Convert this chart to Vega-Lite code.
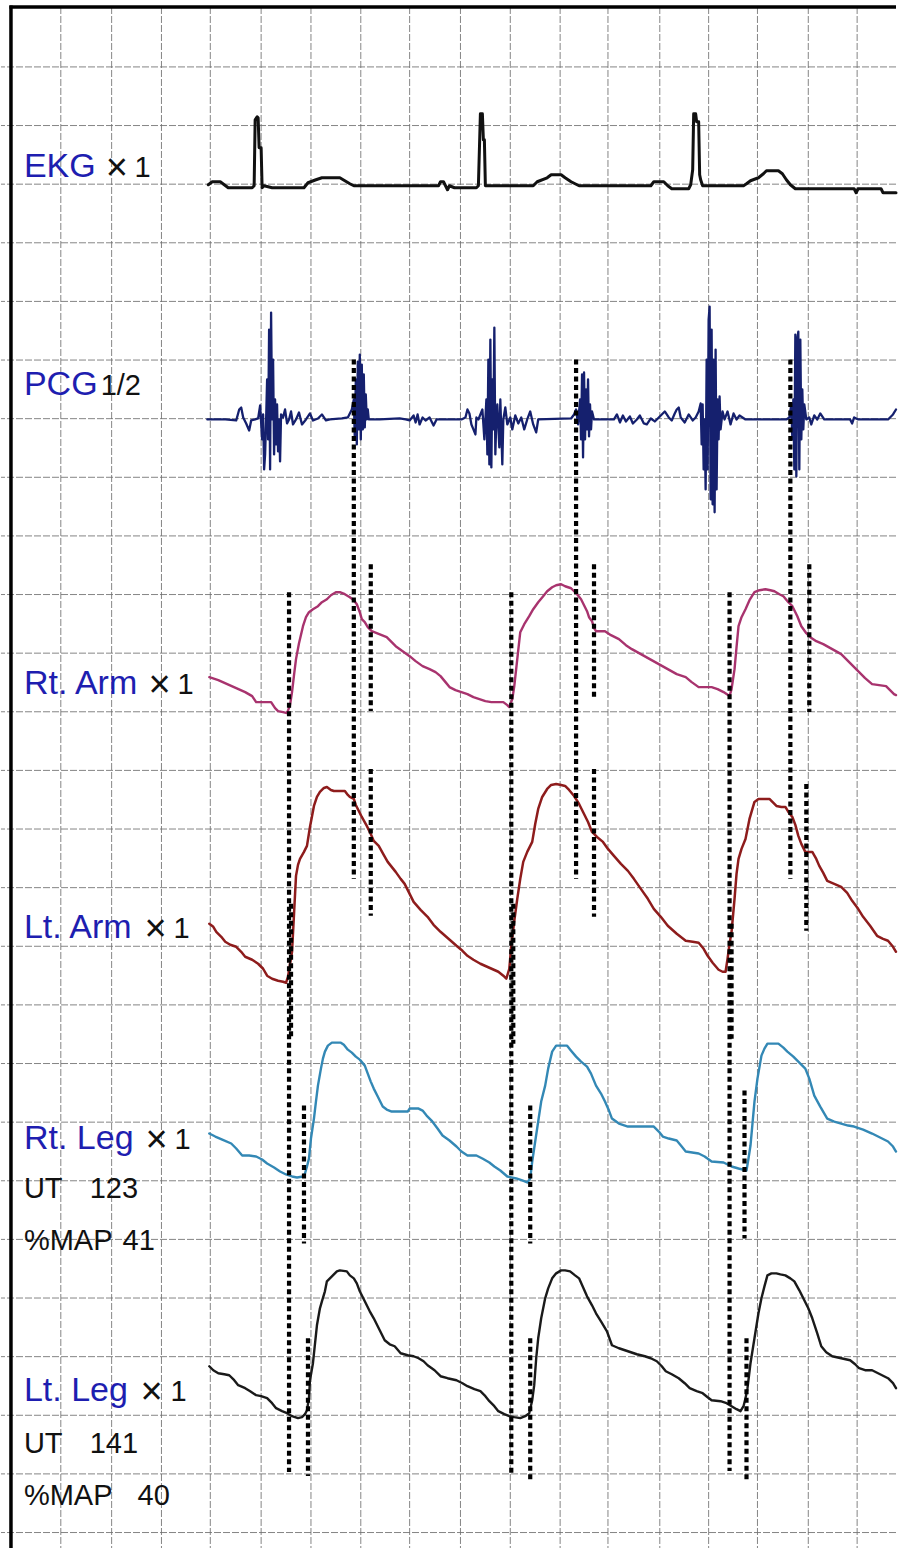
{
"$schema": "https://vega.github.io/schema/vega-lite/v6.json",
"width": 898, "height": 1550,
"autosize": {"type": "fit", "contains": "padding"},
"padding": 0,
"background": "white",
"config": {"view": {"stroke": null}},
"datasets": {
"vgrid": [{"t":60},{"t":111},{"t":161},{"t":210},{"t":261},{"t":311},{"t":361},{"t":410},{"t":461},{"t":511},{"t":561},{"t":609},{"t":661},{"t":710},{"t":759},{"t":810},{"t":859}],
"hgrid": [{"v":67},{"v":125.7},{"v":184.4},{"v":243.1},{"v":301.8},{"v":360.5},{"v":419.2},{"v":477.9},{"v":536.6},{"v":595.3},{"v":654},{"v":712.7},{"v":771.4},{"v":830.1},{"v":888.8},{"v":947.5},{"v":1006.2},{"v":1064.9},{"v":1123.6},{"v":1182.3},{"v":1241},{"v":1299.7},{"v":1358.4},{"v":1417.1},{"v":1475.8},{"v":1534.5}],
"frame": [{"t":10,"t2":10,"v":5.5,"v2":1550},{"t":8.5,"t2":898,"v":7,"v2":7}],
"ekg": [{"t":208,"v":185},{"t":212,"v":182},{"t":220,"v":182},{"t":224,"v":185},{"t":228,"v":188},{"t":236,"v":188},{"t":252,"v":188},{"t":254,"v":186},{"t":255,"v":120},{"t":257,"v":117},{"t":258,"v":118},{"t":259,"v":148},{"t":261,"v":148},{"t":262,"v":188},{"t":264,"v":186},{"t":272,"v":188},{"t":304,"v":188},{"t":308,"v":183},{"t":316,"v":180},{"t":322,"v":178},{"t":340,"v":178},{"t":345,"v":181},{"t":350,"v":184},{"t":354,"v":186},{"t":400,"v":186},{"t":439,"v":186},{"t":441,"v":182},{"t":444,"v":182},{"t":446,"v":186},{"t":448,"v":190},{"t":450,"v":186},{"t":455,"v":188},{"t":477,"v":188},{"t":479,"v":186},{"t":481,"v":114},{"t":483,"v":114},{"t":484,"v":140},{"t":485,"v":140},{"t":486,"v":186},{"t":490,"v":186},{"t":534,"v":186},{"t":538,"v":182},{"t":548,"v":178},{"t":552,"v":175},{"t":562,"v":175},{"t":566,"v":178},{"t":572,"v":182},{"t":580,"v":186},{"t":652,"v":186},{"t":655,"v":182},{"t":665,"v":182},{"t":669,"v":186},{"t":673,"v":189},{"t":690,"v":189},{"t":692,"v":185},{"t":694,"v":170},{"t":695,"v":114},{"t":697,"v":114},{"t":698,"v":122},{"t":700,"v":122},{"t":701,"v":175},{"t":702,"v":180},{"t":704,"v":186},{"t":745,"v":186},{"t":748,"v":184},{"t":752,"v":181},{"t":760,"v":178},{"t":765,"v":174},{"t":768,"v":171},{"t":780,"v":171},{"t":784,"v":174},{"t":788,"v":180},{"t":792,"v":185},{"t":797,"v":189},{"t":856,"v":189},{"t":858,"v":193},{"t":860,"v":189},{"t":883,"v":189},{"t":885,"v":193},{"t":898,"v":193}],
"pcg": [{"t":207,"v":420},{"t":225,"v":420},{"t":236,"v":421},{"t":239,"v":410},{"t":241,"v":408},{"t":243,"v":418},{"t":246,"v":424},{"t":249,"v":431},{"t":251,"v":421},{"t":255,"v":420},{"t":258,"v":419},{"t":260,"v":406},{"t":262,"v":440},{"t":263,"v":415},{"t":264,"v":470},{"t":265,"v":455},{"t":266,"v":420},{"t":267,"v":380},{"t":268,"v":440},{"t":269,"v":330},{"t":270,"v":470},{"t":271,"v":313},{"t":272,"v":420},{"t":273,"v":360},{"t":274,"v":455},{"t":275,"v":400},{"t":276,"v":445},{"t":277,"v":405},{"t":278,"v":452},{"t":279,"v":420},{"t":280,"v":462},{"t":281,"v":415},{"t":283,"v":418},{"t":285,"v":410},{"t":287,"v":424},{"t":289,"v":420},{"t":291,"v":412},{"t":293,"v":425},{"t":296,"v":420},{"t":299,"v":413},{"t":302,"v":425},{"t":306,"v":420},{"t":310,"v":414},{"t":313,"v":421},{"t":318,"v":419},{"t":322,"v":415},{"t":326,"v":421},{"t":330,"v":420},{"t":342,"v":419},{"t":348,"v":418},{"t":352,"v":410},{"t":354,"v":400},{"t":355,"v":440},{"t":356,"v":380},{"t":357,"v":445},{"t":358,"v":362},{"t":359,"v":430},{"t":360,"v":355},{"t":361,"v":440},{"t":362,"v":365},{"t":363,"v":430},{"t":364,"v":375},{"t":365,"v":428},{"t":366,"v":395},{"t":367,"v":420},{"t":368,"v":410},{"t":369,"v":420},{"t":380,"v":420},{"t":400,"v":419},{"t":406,"v":420},{"t":410,"v":421},{"t":414,"v":416},{"t":416,"v":423},{"t":418,"v":415},{"t":420,"v":425},{"t":423,"v":418},{"t":426,"v":421},{"t":430,"v":418},{"t":434,"v":426},{"t":437,"v":420},{"t":462,"v":420},{"t":466,"v":418},{"t":468,"v":410},{"t":470,"v":414},{"t":472,"v":425},{"t":474,"v":430},{"t":476,"v":435},{"t":477,"v":418},{"t":479,"v":420},{"t":483,"v":410},{"t":485,"v":440},{"t":487,"v":400},{"t":488,"v":455},{"t":489,"v":360},{"t":490,"v":465},{"t":491,"v":340},{"t":492,"v":468},{"t":493,"v":380},{"t":494,"v":430},{"t":495,"v":328},{"t":496,"v":455},{"t":497,"v":420},{"t":498,"v":405},{"t":500,"v":448},{"t":501,"v":400},{"t":503,"v":465},{"t":504,"v":420},{"t":506,"v":408},{"t":508,"v":425},{"t":511,"v":418},{"t":513,"v":430},{"t":516,"v":416},{"t":519,"v":424},{"t":522,"v":418},{"t":525,"v":430},{"t":528,"v":420},{"t":531,"v":412},{"t":534,"v":425},{"t":537,"v":433},{"t":539,"v":420},{"t":572,"v":419},{"t":575,"v":415},{"t":577,"v":410},{"t":579,"v":425},{"t":581,"v":400},{"t":582,"v":440},{"t":583,"v":375},{"t":584,"v":458},{"t":585,"v":373},{"t":586,"v":440},{"t":587,"v":390},{"t":588,"v":430},{"t":589,"v":380},{"t":590,"v":437},{"t":591,"v":405},{"t":592,"v":430},{"t":593,"v":412},{"t":595,"v":420},{"t":615,"v":420},{"t":618,"v":415},{"t":621,"v":423},{"t":624,"v":416},{"t":627,"v":422},{"t":631,"v":417},{"t":634,"v":424},{"t":638,"v":420},{"t":641,"v":416},{"t":645,"v":424},{"t":648,"v":425},{"t":652,"v":419},{"t":656,"v":422},{"t":660,"v":418},{"t":663,"v":415},{"t":666,"v":412},{"t":670,"v":418},{"t":673,"v":421},{"t":676,"v":414},{"t":678,"v":410},{"t":680,"v":408},{"t":682,"v":418},{"t":686,"v":423},{"t":690,"v":415},{"t":694,"v":421},{"t":697,"v":418},{"t":700,"v":412},{"t":702,"v":404},{"t":703,"v":445},{"t":704,"v":405},{"t":705,"v":470},{"t":706,"v":420},{"t":707,"v":490},{"t":708,"v":360},{"t":709,"v":470},{"t":710,"v":320},{"t":711,"v":307},{"t":712,"v":500},{"t":713,"v":330},{"t":714,"v":505},{"t":715,"v":360},{"t":716,"v":513},{"t":717,"v":350},{"t":718,"v":490},{"t":719,"v":400},{"t":720,"v":440},{"t":721,"v":397},{"t":722,"v":430},{"t":724,"v":412},{"t":726,"v":420},{"t":729,"v":412},{"t":732,"v":425},{"t":735,"v":414},{"t":738,"v":420},{"t":741,"v":416},{"t":744,"v":418},{"t":747,"v":420},{"t":788,"v":420},{"t":791,"v":418},{"t":793,"v":405},{"t":794,"v":440},{"t":795,"v":400},{"t":796,"v":470},{"t":797,"v":335},{"t":798,"v":477},{"t":799,"v":340},{"t":800,"v":332},{"t":801,"v":470},{"t":802,"v":340},{"t":803,"v":440},{"t":804,"v":390},{"t":805,"v":430},{"t":806,"v":405},{"t":808,"v":420},{"t":811,"v":418},{"t":813,"v":425},{"t":816,"v":416},{"t":819,"v":420},{"t":822,"v":414},{"t":826,"v":420},{"t":852,"v":420},{"t":854,"v":424},{"t":856,"v":418},{"t":860,"v":420},{"t":890,"v":420},{"t":895,"v":415},{"t":898,"v":410}],
"rarm": [{"t":209,"v":678},{"t":218,"v":681},{"t":227,"v":685},{"t":236,"v":689},{"t":245,"v":693},{"t":252,"v":697},{"t":256,"v":703},{"t":264,"v":703},{"t":271,"v":703},{"t":275,"v":709},{"t":278,"v":712},{"t":283,"v":713},{"t":287,"v":714},{"t":290,"v":706},{"t":292,"v":693},{"t":294,"v":676},{"t":296,"v":660},{"t":299,"v":644},{"t":303,"v":627},{"t":306,"v":618},{"t":309,"v":613},{"t":313,"v":610},{"t":318,"v":607},{"t":322,"v":603},{"t":327,"v":600},{"t":331,"v":596},{"t":336,"v":593},{"t":340,"v":593},{"t":345,"v":595},{"t":350,"v":598},{"t":354,"v":601},{"t":357,"v":605},{"t":360,"v":613},{"t":362,"v":620},{"t":365,"v":623},{"t":368,"v":628},{"t":372,"v":632},{"t":377,"v":634},{"t":382,"v":636},{"t":387,"v":638},{"t":392,"v":643},{"t":396,"v":647},{"t":403,"v":652},{"t":410,"v":657},{"t":416,"v":662},{"t":423,"v":667},{"t":430,"v":670},{"t":436,"v":673},{"t":441,"v":677},{"t":446,"v":683},{"t":450,"v":688},{"t":456,"v":691},{"t":462,"v":693},{"t":468,"v":695},{"t":474,"v":698},{"t":480,"v":700},{"t":486,"v":702},{"t":492,"v":703},{"t":504,"v":703},{"t":508,"v":706},{"t":510,"v":708},{"t":513,"v":700},{"t":515,"v":687},{"t":518,"v":660},{"t":521,"v":633},{"t":525,"v":625},{"t":530,"v":617},{"t":534,"v":610},{"t":539,"v":603},{"t":544,"v":597},{"t":548,"v":592},{"t":553,"v":588},{"t":557,"v":586},{"t":562,"v":585},{"t":566,"v":587},{"t":572,"v":589},{"t":575,"v":592},{"t":578,"v":595},{"t":582,"v":600},{"t":585,"v":606},{"t":588,"v":612},{"t":590,"v":618},{"t":593,"v":622},{"t":595,"v":629},{"t":597,"v":632},{"t":606,"v":632},{"t":612,"v":636},{"t":620,"v":640},{"t":627,"v":646},{"t":633,"v":650},{"t":642,"v":655},{"t":651,"v":660},{"t":660,"v":665},{"t":669,"v":670},{"t":678,"v":675},{"t":687,"v":678},{"t":693,"v":683},{"t":700,"v":688},{"t":713,"v":688},{"t":719,"v":690},{"t":725,"v":693},{"t":728,"v":695},{"t":731,"v":697},{"t":733,"v":690},{"t":736,"v":670},{"t":738,"v":648},{"t":740,"v":627},{"t":743,"v":618},{"t":747,"v":610},{"t":751,"v":601},{"t":756,"v":593},{"t":761,"v":591},{"t":767,"v":590},{"t":772,"v":591},{"t":776,"v":592},{"t":781,"v":595},{"t":785,"v":597},{"t":790,"v":603},{"t":794,"v":607},{"t":799,"v":617},{"t":803,"v":627},{"t":808,"v":634},{"t":812,"v":638},{"t":818,"v":642},{"t":825,"v":645},{"t":834,"v":650},{"t":843,"v":655},{"t":852,"v":664},{"t":861,"v":673},{"t":867,"v":679},{"t":874,"v":685},{"t":881,"v":686},{"t":888,"v":687},{"t":892,"v":691},{"t":896,"v":695},{"t":898,"v":696}],
"larm": [{"t":209,"v":925},{"t":213,"v":928},{"t":216,"v":933},{"t":221,"v":938},{"t":225,"v":943},{"t":230,"v":946},{"t":236,"v":948},{"t":241,"v":953},{"t":245,"v":958},{"t":252,"v":961},{"t":258,"v":965},{"t":263,"v":970},{"t":267,"v":977},{"t":272,"v":980},{"t":278,"v":982},{"t":283,"v":983},{"t":286,"v":984},{"t":288,"v":978},{"t":290,"v":965},{"t":292,"v":953},{"t":294,"v":915},{"t":296,"v":877},{"t":298,"v":866},{"t":300,"v":860},{"t":304,"v":853},{"t":307,"v":847},{"t":310,"v":828},{"t":314,"v":807},{"t":317,"v":798},{"t":320,"v":793},{"t":324,"v":789},{"t":327,"v":788},{"t":331,"v":791},{"t":334,"v":792},{"t":345,"v":792},{"t":348,"v":796},{"t":350,"v":798},{"t":352,"v":799},{"t":354,"v":800},{"t":356,"v":806},{"t":358,"v":810},{"t":362,"v":818},{"t":367,"v":827},{"t":371,"v":835},{"t":374,"v":842},{"t":379,"v":847},{"t":384,"v":856},{"t":388,"v":863},{"t":392,"v":868},{"t":396,"v":873},{"t":401,"v":880},{"t":405,"v":885},{"t":409,"v":893},{"t":414,"v":903},{"t":421,"v":911},{"t":428,"v":918},{"t":434,"v":926},{"t":441,"v":933},{"t":449,"v":940},{"t":457,"v":947},{"t":463,"v":952},{"t":468,"v":957},{"t":474,"v":961},{"t":481,"v":965},{"t":490,"v":969},{"t":499,"v":973},{"t":504,"v":977},{"t":507,"v":980},{"t":510,"v":970},{"t":512,"v":947},{"t":515,"v":922},{"t":518,"v":900},{"t":521,"v":880},{"t":524,"v":863},{"t":528,"v":853},{"t":533,"v":843},{"t":536,"v":825},{"t":539,"v":810},{"t":543,"v":798},{"t":548,"v":790},{"t":552,"v":786},{"t":557,"v":785},{"t":562,"v":786},{"t":566,"v":787},{"t":570,"v":791},{"t":575,"v":797},{"t":580,"v":805},{"t":584,"v":813},{"t":589,"v":823},{"t":593,"v":833},{"t":598,"v":838},{"t":604,"v":843},{"t":609,"v":850},{"t":615,"v":857},{"t":622,"v":865},{"t":629,"v":872},{"t":635,"v":880},{"t":642,"v":890},{"t":649,"v":900},{"t":655,"v":910},{"t":662,"v":918},{"t":669,"v":927},{"t":678,"v":935},{"t":687,"v":942},{"t":694,"v":943},{"t":700,"v":944},{"t":705,"v":950},{"t":709,"v":957},{"t":714,"v":964},{"t":720,"v":971},{"t":724,"v":973},{"t":727,"v":973},{"t":729,"v":960},{"t":731,"v":945},{"t":733,"v":933},{"t":736,"v":900},{"t":738,"v":875},{"t":740,"v":860},{"t":743,"v":850},{"t":747,"v":840},{"t":751,"v":820},{"t":756,"v":803},{"t":760,"v":800},{"t":771,"v":800},{"t":775,"v":804},{"t":778,"v":807},{"t":783,"v":808},{"t":787,"v":808},{"t":790,"v":813},{"t":794,"v":818},{"t":797,"v":826},{"t":800,"v":837},{"t":803,"v":845},{"t":807,"v":853},{"t":814,"v":853},{"t":818,"v":860},{"t":821,"v":867},{"t":825,"v":874},{"t":829,"v":882},{"t":836,"v":885},{"t":843,"v":888},{"t":849,"v":894},{"t":854,"v":902},{"t":860,"v":910},{"t":865,"v":918},{"t":872,"v":927},{"t":879,"v":937},{"t":885,"v":940},{"t":890,"v":942},{"t":895,"v":948},{"t":898,"v":953}],
"rleg": [{"t":209,"v":1135},{"t":215,"v":1138},{"t":222,"v":1141},{"t":231,"v":1145},{"t":236,"v":1150},{"t":242,"v":1157},{"t":249,"v":1157},{"t":256,"v":1158},{"t":262,"v":1161},{"t":267,"v":1165},{"t":274,"v":1169},{"t":280,"v":1173},{"t":286,"v":1176},{"t":292,"v":1178},{"t":297,"v":1179},{"t":303,"v":1178},{"t":305,"v":1175},{"t":307,"v":1168},{"t":309,"v":1160},{"t":311,"v":1140},{"t":314,"v":1120},{"t":316,"v":1103},{"t":318,"v":1087},{"t":321,"v":1070},{"t":323,"v":1060},{"t":325,"v":1053},{"t":328,"v":1047},{"t":332,"v":1044},{"t":341,"v":1044},{"t":344,"v":1046},{"t":348,"v":1051},{"t":352,"v":1054},{"t":356,"v":1058},{"t":360,"v":1061},{"t":365,"v":1067},{"t":368,"v":1075},{"t":371,"v":1083},{"t":374,"v":1090},{"t":378,"v":1098},{"t":383,"v":1108},{"t":387,"v":1111},{"t":392,"v":1113},{"t":408,"v":1113},{"t":410,"v":1110},{"t":419,"v":1110},{"t":423,"v":1112},{"t":427,"v":1117},{"t":432,"v":1122},{"t":438,"v":1130},{"t":443,"v":1137},{"t":450,"v":1142},{"t":457,"v":1148},{"t":462,"v":1153},{"t":468,"v":1157},{"t":477,"v":1157},{"t":483,"v":1160},{"t":490,"v":1164},{"t":495,"v":1168},{"t":501,"v":1172},{"t":508,"v":1178},{"t":517,"v":1180},{"t":523,"v":1182},{"t":528,"v":1184},{"t":531,"v":1180},{"t":533,"v":1163},{"t":536,"v":1143},{"t":539,"v":1123},{"t":542,"v":1103},{"t":546,"v":1087},{"t":549,"v":1070},{"t":553,"v":1053},{"t":557,"v":1047},{"t":568,"v":1047},{"t":572,"v":1052},{"t":577,"v":1058},{"t":582,"v":1063},{"t":588,"v":1068},{"t":592,"v":1075},{"t":597,"v":1087},{"t":602,"v":1095},{"t":606,"v":1103},{"t":610,"v":1112},{"t":613,"v":1120},{"t":620,"v":1125},{"t":629,"v":1128},{"t":655,"v":1128},{"t":660,"v":1133},{"t":664,"v":1138},{"t":670,"v":1140},{"t":678,"v":1142},{"t":683,"v":1148},{"t":687,"v":1153},{"t":700,"v":1155},{"t":706,"v":1158},{"t":713,"v":1163},{"t":725,"v":1164},{"t":733,"v":1168},{"t":740,"v":1170},{"t":748,"v":1172},{"t":750,"v":1160},{"t":752,"v":1147},{"t":754,"v":1125},{"t":756,"v":1103},{"t":759,"v":1080},{"t":763,"v":1057},{"t":766,"v":1050},{"t":769,"v":1045},{"t":780,"v":1045},{"t":785,"v":1049},{"t":789,"v":1053},{"t":795,"v":1058},{"t":800,"v":1063},{"t":804,"v":1067},{"t":807,"v":1070},{"t":811,"v":1080},{"t":816,"v":1097},{"t":822,"v":1108},{"t":829,"v":1120},{"t":836,"v":1123},{"t":843,"v":1125},{"t":850,"v":1127},{"t":856,"v":1128},{"t":865,"v":1131},{"t":874,"v":1135},{"t":882,"v":1139},{"t":890,"v":1143},{"t":895,"v":1148},{"t":898,"v":1153}],
"lleg": [{"t":209,"v":1368},{"t":213,"v":1372},{"t":218,"v":1375},{"t":224,"v":1376},{"t":229,"v":1377},{"t":234,"v":1382},{"t":238,"v":1387},{"t":245,"v":1390},{"t":250,"v":1393},{"t":256,"v":1397},{"t":261,"v":1398},{"t":267,"v":1400},{"t":272,"v":1405},{"t":276,"v":1410},{"t":282,"v":1413},{"t":287,"v":1415},{"t":292,"v":1418},{"t":298,"v":1420},{"t":302,"v":1419},{"t":305,"v":1416},{"t":307,"v":1412},{"t":309,"v":1400},{"t":310,"v":1382},{"t":313,"v":1365},{"t":317,"v":1327},{"t":320,"v":1310},{"t":322,"v":1303},{"t":325,"v":1293},{"t":327,"v":1283},{"t":330,"v":1280},{"t":333,"v":1277},{"t":337,"v":1273},{"t":340,"v":1272},{"t":347,"v":1273},{"t":350,"v":1277},{"t":354,"v":1280},{"t":357,"v":1285},{"t":360,"v":1293},{"t":365,"v":1303},{"t":370,"v":1313},{"t":374,"v":1320},{"t":380,"v":1332},{"t":385,"v":1342},{"t":390,"v":1346},{"t":395,"v":1348},{"t":401,"v":1355},{"t":408,"v":1357},{"t":414,"v":1358},{"t":419,"v":1360},{"t":424,"v":1363},{"t":428,"v":1367},{"t":435,"v":1372},{"t":441,"v":1378},{"t":448,"v":1380},{"t":457,"v":1382},{"t":463,"v":1385},{"t":468,"v":1388},{"t":475,"v":1391},{"t":481,"v":1393},{"t":486,"v":1398},{"t":490,"v":1403},{"t":495,"v":1408},{"t":499,"v":1413},{"t":505,"v":1416},{"t":510,"v":1418},{"t":515,"v":1419},{"t":521,"v":1420},{"t":526,"v":1418},{"t":530,"v":1415},{"t":533,"v":1402},{"t":535,"v":1387},{"t":537,"v":1360},{"t":539,"v":1340},{"t":542,"v":1320},{"t":546,"v":1300},{"t":549,"v":1290},{"t":553,"v":1280},{"t":557,"v":1275},{"t":562,"v":1272},{"t":566,"v":1272},{"t":571,"v":1273},{"t":576,"v":1277},{"t":580,"v":1280},{"t":584,"v":1289},{"t":588,"v":1298},{"t":593,"v":1307},{"t":597,"v":1315},{"t":602,"v":1323},{"t":608,"v":1333},{"t":613,"v":1347},{"t":620,"v":1350},{"t":629,"v":1353},{"t":638,"v":1356},{"t":646,"v":1358},{"t":652,"v":1360},{"t":658,"v":1363},{"t":663,"v":1368},{"t":667,"v":1373},{"t":673,"v":1376},{"t":680,"v":1380},{"t":686,"v":1385},{"t":691,"v":1390},{"t":698,"v":1393},{"t":704,"v":1395},{"t":709,"v":1399},{"t":713,"v":1402},{"t":722,"v":1403},{"t":728,"v":1405},{"t":733,"v":1408},{"t":738,"v":1411},{"t":742,"v":1413},{"t":745,"v":1408},{"t":747,"v":1400},{"t":749,"v":1390},{"t":752,"v":1365},{"t":756,"v":1340},{"t":760,"v":1315},{"t":763,"v":1300},{"t":766,"v":1288},{"t":769,"v":1277},{"t":773,"v":1275},{"t":778,"v":1275},{"t":782,"v":1276},{"t":787,"v":1277},{"t":792,"v":1280},{"t":796,"v":1283},{"t":801,"v":1292},{"t":805,"v":1300},{"t":810,"v":1310},{"t":814,"v":1320},{"t":819,"v":1335},{"t":823,"v":1348},{"t":828,"v":1354},{"t":834,"v":1358},{"t":843,"v":1360},{"t":852,"v":1362},{"t":857,"v":1366},{"t":861,"v":1370},{"t":867,"v":1372},{"t":874,"v":1372},{"t":882,"v":1376},{"t":890,"v":1380},{"t":895,"v":1385},{"t":898,"v":1390}],
"markers": [{"t":289,"v":593,"v2":1474},{"t":291,"v":905,"v2":1040},{"t":354,"v":360,"v2":880},{"t":371,"v":565,"v2":712},{"t":371,"v":770,"v2":917},{"t":304,"v":1107,"v2":1245},{"t":308,"v":1340,"v2":1478},{"t":512,"v":593,"v2":1476},{"t":514,"v":905,"v2":1045},{"t":577,"v":360,"v2":880},{"t":595,"v":565,"v2":698},{"t":595,"v":770,"v2":918},{"t":531,"v":1107,"v2":1245},{"t":531,"v":1340,"v2":1482},{"t":731,"v":593,"v2":1473},{"t":733,"v":925,"v2":1040},{"t":792,"v":360,"v2":880},{"t":811,"v":565,"v2":713},{"t":808,"v":785,"v2":932},{"t":746,"v":1092,"v2":1240},{"t":748,"v":1340,"v2":1482}],
"names": [{"t":23,"v":177,"text":"EKG"},{"t":23,"v":396,"text":"PCG"},{"t":23,"v":695,"text":"Rt. Arm"},{"t":23,"v":939,"text":"Lt. Arm"},{"t":23,"v":1150,"text":"Rt. Leg"},{"t":23,"v":1403,"text":"Lt. Leg"}],
"times": [{"t":105,"v":180,"text":"×"},{"t":148,"v":698,"text":"×"},{"t":144,"v":942,"text":"×"},{"t":145,"v":1153,"text":"×"},{"t":140,"v":1406,"text":"×"}],
"values": [{"t":134,"v":177,"text":"1"},{"t":100,"v":396,"text":"1/2"},{"t":177,"v":695,"text":"1"},{"t":173,"v":939,"text":"1"},{"t":174,"v":1150,"text":"1"},{"t":170,"v":1403,"text":"1"},{"t":23,"v":1200,"text":"UT"},{"t":89,"v":1200,"text":"123"},{"t":23,"v":1252,"text":"%MAP"},{"t":122,"v":1252,"text":"41"},{"t":23,"v":1455,"text":"UT"},{"t":89,"v":1455,"text":"141"},{"t":23,"v":1507,"text":"%MAP"},{"t":137,"v":1507,"text":"40"}]
},
"layer": [
{"data": {"name": "vgrid"}, "mark": {"type": "rule", "color": "#707070", "strokeWidth": 1, "strokeDash": [7, 2], "opacity": 0.85},
 "encoding": {"x": {"field": "t", "type": "quantitative", "scale": {"domain": [0, 898], "nice": false, "zero": false}, "axis": null},
  "y": {"datum": 7, "type": "quantitative", "scale": {"domain": [0, 1550], "reverse": true, "nice": false, "zero": false}, "axis": null},
  "y2": {"datum": 1550}}},
{"data": {"name": "hgrid"}, "mark": {"type": "rule", "color": "#707070", "strokeWidth": 1, "strokeDash": [7, 2], "opacity": 0.85},
 "encoding": {"y": {"field": "v", "type": "quantitative", "scale": {"domain": [0, 1550], "reverse": true, "nice": false, "zero": false}, "axis": null}}},
{"data": {"name": "frame"}, "mark": {"type": "rule", "color": "#000000", "strokeWidth": 3.5},
 "encoding": {"x": {"field": "t", "type": "quantitative", "scale": {"domain": [0, 898], "nice": false, "zero": false}, "axis": null}, "x2": {"field": "t2"},
  "y": {"field": "v", "type": "quantitative", "scale": {"domain": [0, 1550], "reverse": true, "nice": false, "zero": false}, "axis": null}, "y2": {"field": "v2"}}},
{"data": {"name": "ekg"}, "mark": {"type": "line", "color": "#111111", "strokeWidth": 3, "strokeJoin": "round", "strokeCap": "round"},
 "encoding": {"x": {"field": "t", "type": "quantitative", "scale": {"domain": [0, 898], "nice": false, "zero": false}, "axis": null},
  "y": {"field": "v", "type": "quantitative", "scale": {"domain": [0, 1550], "reverse": true, "nice": false, "zero": false}, "axis": null}}},
{"data": {"name": "pcg"}, "mark": {"type": "line", "color": "#15206e", "strokeWidth": 2.3, "strokeJoin": "round", "strokeCap": "round"},
 "encoding": {"x": {"field": "t", "type": "quantitative", "scale": {"domain": [0, 898], "nice": false, "zero": false}, "axis": null},
  "y": {"field": "v", "type": "quantitative", "scale": {"domain": [0, 1550], "reverse": true, "nice": false, "zero": false}, "axis": null}}},
{"data": {"name": "rarm"}, "mark": {"type": "line", "color": "#a8336e", "strokeWidth": 2.4, "strokeJoin": "round", "strokeCap": "round"},
 "encoding": {"x": {"field": "t", "type": "quantitative", "scale": {"domain": [0, 898], "nice": false, "zero": false}, "axis": null},
  "y": {"field": "v", "type": "quantitative", "scale": {"domain": [0, 1550], "reverse": true, "nice": false, "zero": false}, "axis": null}}},
{"data": {"name": "larm"}, "mark": {"type": "line", "color": "#8e1c1c", "strokeWidth": 2.5, "strokeJoin": "round", "strokeCap": "round"},
 "encoding": {"x": {"field": "t", "type": "quantitative", "scale": {"domain": [0, 898], "nice": false, "zero": false}, "axis": null},
  "y": {"field": "v", "type": "quantitative", "scale": {"domain": [0, 1550], "reverse": true, "nice": false, "zero": false}, "axis": null}}},
{"data": {"name": "rleg"}, "mark": {"type": "line", "color": "#3388b5", "strokeWidth": 2.4, "strokeJoin": "round", "strokeCap": "round"},
 "encoding": {"x": {"field": "t", "type": "quantitative", "scale": {"domain": [0, 898], "nice": false, "zero": false}, "axis": null},
  "y": {"field": "v", "type": "quantitative", "scale": {"domain": [0, 1550], "reverse": true, "nice": false, "zero": false}, "axis": null}}},
{"data": {"name": "lleg"}, "mark": {"type": "line", "color": "#1a1a1a", "strokeWidth": 2.4, "strokeJoin": "round", "strokeCap": "round"},
 "encoding": {"x": {"field": "t", "type": "quantitative", "scale": {"domain": [0, 898], "nice": false, "zero": false}, "axis": null},
  "y": {"field": "v", "type": "quantitative", "scale": {"domain": [0, 1550], "reverse": true, "nice": false, "zero": false}, "axis": null}}},
{"data": {"name": "markers"}, "mark": {"type": "rule", "color": "#000000", "strokeWidth": 4.2, "strokeDash": [5, 3.5]},
 "encoding": {"x": {"field": "t", "type": "quantitative", "scale": {"domain": [0, 898], "nice": false, "zero": false}, "axis": null},
  "y": {"field": "v", "type": "quantitative", "scale": {"domain": [0, 1550], "reverse": true, "nice": false, "zero": false}, "axis": null}, "y2": {"field": "v2"}}},
{"data": {"name": "names"}, "mark": {"type": "text", "color": "#1e1eb0", "font": "Liberation Sans", "fontSize": 34, "align": "left", "baseline": "alphabetic"},
 "encoding": {"x": {"field": "t", "type": "quantitative", "scale": {"domain": [0, 898], "nice": false, "zero": false}, "axis": null},
  "y": {"field": "v", "type": "quantitative", "scale": {"domain": [0, 1550], "reverse": true, "nice": false, "zero": false}, "axis": null},
  "text": {"field": "text"}}},
{"data": {"name": "times"}, "mark": {"type": "text", "color": "#111111", "font": "Liberation Sans", "fontSize": 38, "align": "left", "baseline": "alphabetic"},
 "encoding": {"x": {"field": "t", "type": "quantitative", "scale": {"domain": [0, 898], "nice": false, "zero": false}, "axis": null},
  "y": {"field": "v", "type": "quantitative", "scale": {"domain": [0, 1550], "reverse": true, "nice": false, "zero": false}, "axis": null},
  "text": {"field": "text"}}},
{"data": {"name": "values"}, "mark": {"type": "text", "color": "#111111", "font": "Liberation Sans", "fontSize": 29, "align": "left", "baseline": "alphabetic"},
 "encoding": {"x": {"field": "t", "type": "quantitative", "scale": {"domain": [0, 898], "nice": false, "zero": false}, "axis": null},
  "y": {"field": "v", "type": "quantitative", "scale": {"domain": [0, 1550], "reverse": true, "nice": false, "zero": false}, "axis": null},
  "text": {"field": "text"}}}
]
}
